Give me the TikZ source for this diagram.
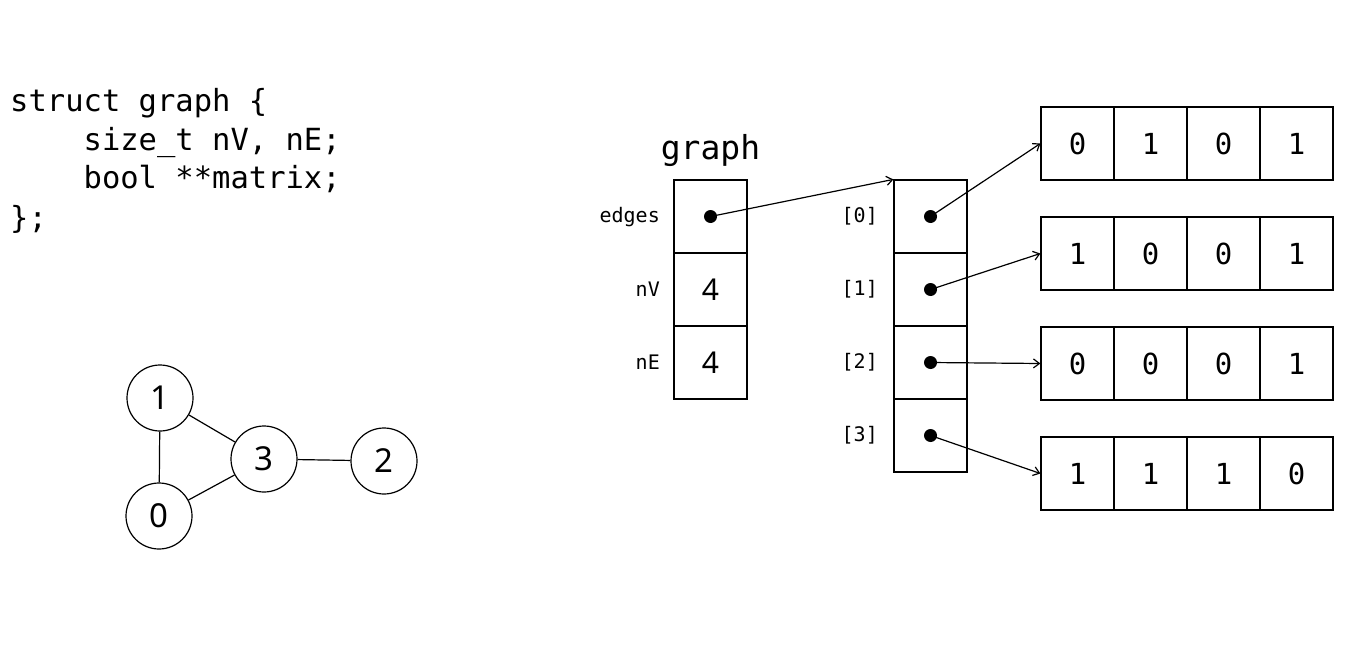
\documentclass[tikz,border=0pt]{standalone}
\usepackage{fontspec}
\usetikzlibrary{arrows.meta}
\setmonofont{DejaVu Sans Mono}
\setsansfont{Noto Sans}
\begin{document}
\begin{tikzpicture}[x=1pt,y=-1pt,
  code/.style={anchor=base west,inner sep=0pt,font=\ttfamily\fontsize{30.5}{34}\selectfont},
  lab/.style={anchor=base east,inner sep=0pt,font=\ttfamily\fontsize{20}{22}\selectfont},
  cell/.style={draw,line width=1.2pt,minimum size=73pt,inner sep=0pt,font=\sffamily\fontsize{30}{32}\selectfont},
  mcell/.style={draw,line width=1.2pt,minimum size=73pt,inner sep=0pt,font=\ttfamily\fontsize{29}{32}\selectfont},
  vert/.style={draw,circle,line width=1.2pt,minimum size=66pt,inner sep=0pt,font=\sffamily\fontsize{33}{36}\selectfont},
  ptr/.style={-{Straight Barb[length=6pt,width=9pt]},line width=1.2pt},
  edge/.style={line width=1.2pt},
  dot/.style={circle,fill=black,minimum size=13pt,inner sep=0pt}]
\useasboundingbox (0,0) rectangle (1354,658);
% code
\node[code] (c1) at (10,112) {struct graph \{};
\node[code] (c2) at (10,150) {\ \ \ \ size\_t nV, nE;};
\node[code] (c3) at (10,188) {\ \ \ \ bool **matrix;};
\node[code] (c4) at (10,228) {\};};
% struct
\node[anchor=base,inner sep=0pt,font=\ttfamily\fontsize{33}{36}\selectfont] (gt) at (710.5,159) {graph};
\node[cell] (s1) at (710.5,216.5) {};
\node[cell] (s2) at (710.5,289.5) {4};
\node[cell] (s3) at (710.5,362.5) {4};
\node[lab] (l1) at (660,222) {edges};
\node[lab] (l2) at (660,296) {nV};
\node[lab] (l3) at (660,369) {nE};
% array
\foreach \i/\y in {0/216.5,1/289.5,2/362.5,3/435.5}{
  \node[cell] (a\i) at (930.5,\y) {};
  \node[lab] (al\i) at (878,\y+6) {[\i]};
  \node[dot] (d\i) at (a\i.center) {};
}
\node[dot] (ds) at (s1.center) {};
% matrix
\foreach \r/\y/\vals in {0/143.5/{0,1,0,1},1/253.5/{1,0,0,1},2/363.5/{0,0,0,1},3/473.5/{1,1,1,0}}{
  \foreach \v [count=\c from 0] in \vals {
    \node[mcell] (m\r\c) at (1077.5+73*\c,\y) {\v};
  }
}
% pointers
\draw[ptr] (ds.center) -- (a0.north west);
\foreach \i in {0,1,2,3}{
  \draw[ptr] (d\i.center) -- (m\i0.west);
}
% graph
\node[vert] (v1) at (160,398) {1};
\node[vert] (v0) at (159,516) {0};
\node[vert] (v3) at (264,459) {3};
\node[vert] (v2) at (384,461) {2};
\draw[edge] (v1) -- (v0);
\draw[edge] (v1) -- (v3);
\draw[edge] (v0) -- (v3);
\draw[edge] (v3) -- (v2);
\end{tikzpicture}
\end{document}
